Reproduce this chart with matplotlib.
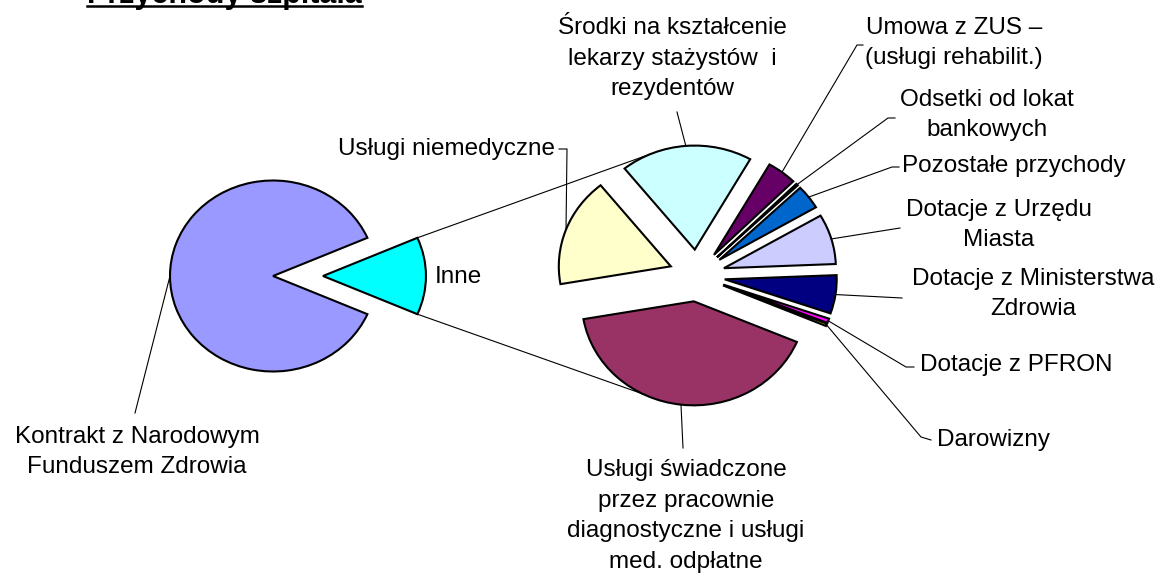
import matplotlib
matplotlib.use("Agg")
import numpy as np
import matplotlib.pyplot as plt
from matplotlib.lines import Line2D
from matplotlib.transforms import IdentityTransform

W, H = 1161, 574  # rozmiar obrazka w pikselach

# Dane: udział w przychodach (%)
title = "Przychody szpitala"
main_label = "Kontrakt z Narodowym\nFunduszem Zdrowia"
main_value = 86.91
rest_label = "Inne"

other_labels = [
    "Usługi świadczone\nprzez pracownie\ndiagnostyczne i usługi\nmed. odpłatne",
    "Usługi niemedyczne",
    "Środki na kształcenie\nlekarzy stażystów  i\nrezydentów",
    "Umowa z ZUS –\n(usługi rehabilit.)",
    "Odsetki od lokat\nbankowych",
    "Pozostałe przychody",
    "Dotacje z Urzędu\nMiasta",
    "Dotacje z Ministerstwa\nZdrowia",
    "Dotacje z PFRON",
    "Darowizny",
]
other_values = [5.35, 2.22, 2.49, 0.56, 0.04, 0.49, 1.02, 0.78, 0.09, 0.05]

main_colors = ["#9999FF", "#00FFFF"]
other_colors = ["#993366", "#FFFFCC", "#CCFFFF", "#660066", "#FF8080",
                "#0066CC", "#CCCCFF", "#000080", "#FF00FF", "#FFFF00"]

# Położenie etykiet (piksele, y w dół): x, y, wyrównanie, punkty linii odniesienia
other_label_pos = [
    (686, 516, "center", [(683, 448)]),
    (555, 149, "right", [(567, 149), (559, 149)]),
    (672, 59, "center", [(677, 112)]),
    (865, 43, "left", [(857, 45), (863, 45)]),
    (987, 115, "center", [(888, 118), (895, 118)]),
    (902, 166, "left", [(892, 167), (899, 167)]),
    (999, 225, "center", [(900, 228)]),
    (1033, 294, "center", [(902, 298)]),
    (920, 365, "left", [(906, 367), (914, 367)]),
    (937, 440, "left", [(921, 437), (931, 440)]),
]

FS = 17.5
LS = 1.5
plt.rcParams["font.family"] = ["Liberation Sans", "DejaVu Sans"]

fig = plt.figure(figsize=(W / 100, H / 100), dpi=100)


def pie_axes(cx, cy, rx, ry, lim=1.6):
    ax = fig.add_axes([(cx - lim * rx) / W, (H - cy - lim * ry) / H,
                       2 * lim * rx / W, 2 * lim * ry / H])
    ax.patch.set_visible(False)
    return ax, lim


def finish(ax, lim):
    ax.set_aspect("auto")
    ax.set_xlim(-lim, lim)
    ax.set_ylim(-lim, lim)
    ax.axis("off")


def arc_point(ax, w, ang):
    a = np.radians(ang)
    x = w.center[0] + w.r * np.cos(a)
    y = w.center[1] + w.r * np.sin(a)
    return ax.transData.transform((x, y))


def draw_line(pts, z=3):
    xs = [p[0] for p in pts]
    ys = [p[1] for p in pts]
    fig.add_artist(Line2D(xs, ys, transform=IdentityTransform(),
                          color="black", lw=0.8, zorder=z))


def px(x, y):
    return (x, H - y)


wp = dict(edgecolor="black", linewidth=1.5)

# Wykres główny
rest_value = sum(other_values)
main_vals = [main_value, rest_value]
ax1, lim1 = pie_axes(273, 276, 103, 95.5)
start1 = -rest_value / (main_value + rest_value) * 360 / 2
w1, _ = ax1.pie(main_vals, colors=main_colors, startangle=start1,
                counterclock=False, explode=[0, 0.485], wedgeprops=wp)
finish(ax1, lim1)

# Wykres pomocniczy
ax2, lim2 = pie_axes(697, 275.5, 112, 104)
w2, _ = ax2.pie(other_values, colors=other_colors, startangle=337,
                counterclock=False, explode=[0.25] * len(other_values),
                wedgeprops=wp)
finish(ax2, lim2)

# Linie łączące
inne = w1[1]
a_hi = inne.theta2 if np.sin(np.radians(inne.theta2)) > 0 else inne.theta1
a_lo = inne.theta1 if a_hi == inne.theta2 else inne.theta2
draw_line([arc_point(ax1, inne, a_hi), arc_point(ax2, w2[2], 113)], z=-1)
draw_line([arc_point(ax1, inne, a_lo), arc_point(ax2, w2[0], 243)], z=-1)

# Etykiety wykresu głównego
k = w1[0]
draw_line([arc_point(ax1, k, (k.theta1 + k.theta2) / 2), px(135, 413)])
fig.text(137 / W, 1 - 452 / H, main_label, ha="center", va="center",
         multialignment="center", fontsize=FS, linespacing=LS)
fig.text(435 / W, 1 - 277 / H, rest_label, ha="left", va="center", fontsize=FS)

# Etykiety wykresu pomocniczego
for w, lab, (x, y, ha, pts) in zip(w2, other_labels, other_label_pos):
    start = arc_point(ax2, w, (w.theta1 + w.theta2) / 2)
    draw_line([start] + [px(*p) for p in pts])
    fig.text(x / W, 1 - y / H, lab, ha=ha, va="center",
             multialignment="center", fontsize=FS, linespacing=LS)

# Tytuł (ucięty u góry, jak w oryginale) z podkreśleniem
t = fig.text(224.5 / W, 1 - 3 / H, title, ha="center", va="baseline",
             fontsize=22, fontweight="bold")
bb = t.get_window_extent(fig.canvas.get_renderer())
fig.add_artist(Line2D([bb.x0, bb.x1], [H - 6, H - 6], transform=IdentityTransform(),
                      color="black", lw=1.8))

fig.savefig("out.png", dpi=100)
